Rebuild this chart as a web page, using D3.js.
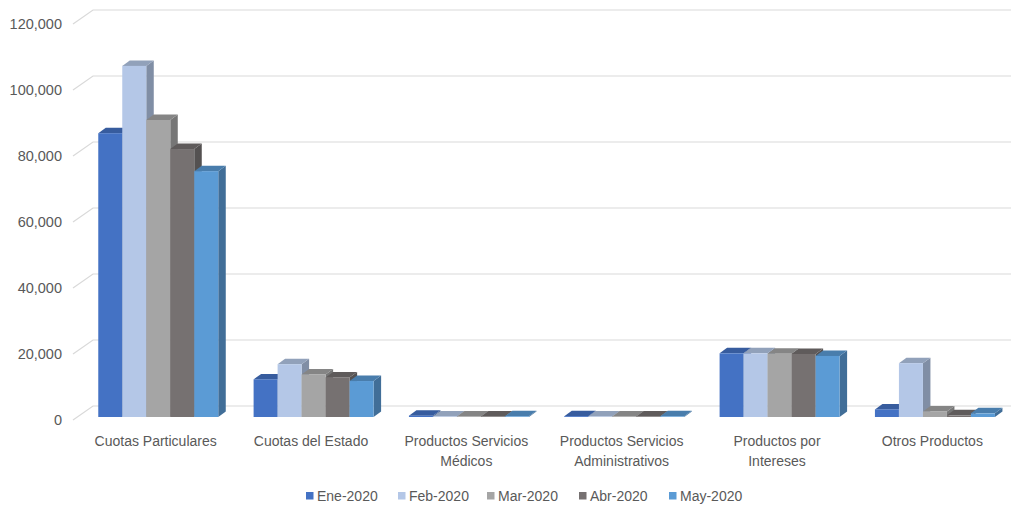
<!DOCTYPE html>
<html><head><meta charset="utf-8">
<script src="https://cdn.jsdelivr.net/npm/d3@7"></script>
<style>
html,body{margin:0;padding:0;background:#fff;}
svg{display:block;font-family:"Liberation Sans",Arial,sans-serif;}
</style></head>
<body><svg id="chart" width="1012" height="507"></svg>
<script>
const categories = [["Cuotas Particulares"],["Cuotas del Estado"],["Productos Servicios","Médicos"],["Productos Servicios","Administrativos"],["Productos por","Intereses"],["Otros Productos"]];
const seriesNames = ["Ene-2020","Feb-2020","Mar-2020","Abr-2020","May-2020"];
const seriesColors = ["#4472C4","#B4C7E7","#A5A5A5","#767171","#5B9BD5"];
const ene2020 = [86000, 11400, 400, 250, 19300, 2300];
const feb2020 = [106400, 16000, 150, 150, 19300, 16300];
const mar2020 = [90000, 12900, 150, 150, 19200, 1700];
const abr2020 = [81200, 12000, 150, 150, 19100, 500];
const may2020 = [74500, 10900, 200, 200, 18500, 1100];
const yTicks = [0, 20000, 40000, 60000, 80000, 100000, 120000];

const series = [ene2020, feb2020, mar2020, abr2020, may2020];
const svg = d3.select("#chart");
const catKeys = categories.map(c => c.join(" "));

const x = d3.scaleBand().domain(catKeys).range([78, 1010]);
const yFront = d3.scaleLinear().domain([0, 120000]).range([420, 24]);
const yBar = d3.scaleLinear().domain([0, 120000]).range([417, 21]);
const depthX = 20, depthY = -14;   // wall depth offset
const bdx = 7.5, bdy = -5.5;       // bar depth offset
const barW = 24;

// gridlines (floor diagonal + back wall)
svg.append("g").selectAll("path").data(yTicks).join("path")
  .attr("d", v => `M73,${yFront(v)}L${73+depthX},${yFront(v)+depthY}L1011,${yFront(v)+depthY}`)
  .attr("fill", "none").attr("stroke", "#D9D9D9").attr("stroke-width", 1.2);

// y tick labels
svg.append("g").selectAll("text").data(yTicks).join("text")
  .attr("x", 62).attr("y", v => yFront(v) + 5)
  .attr("text-anchor", "end").attr("font-size", 14.5).attr("fill", "#595959")
  .text(d3.format(","));

// bars
const barsG = svg.append("g");
catKeys.forEach((c, ci) => {
  const center = x(c) + x.bandwidth() / 2 + 2.6;
  series.forEach((s, si) => {
    const v = s[ci];
    const x0 = center - barW * series.length / 2 + si * barW;
    const x1 = x0 + barW;
    const yb = yBar(0), yt = yBar(v);
    const col = d3.color(seriesColors[si]);
    const g = barsG.append("g");
    // side
    g.append("path").attr("d", `M${x1},${yb}L${x1+bdx},${yb+bdy}L${x1+bdx},${yt+bdy}L${x1},${yt}Z`)
      .attr("fill", col.darker(0.95));
    // top
    g.append("path").attr("d", `M${x0},${yt}L${x0+bdx},${yt+bdy}L${x1+bdx},${yt+bdy}L${x1},${yt}Z`)
      .attr("fill", col.darker(0.6));
    // front
    g.append("rect").attr("x", x0).attr("y", yt).attr("width", barW).attr("height", Math.max(0, yb - yt))
      .attr("fill", col);
  });
});

// category labels
const lab = svg.append("g").selectAll("text").data(categories).join("text")
  .attr("x", (d, i) => x(catKeys[i]) + x.bandwidth() / 2)
  .attr("y", 446).attr("text-anchor", "middle").attr("font-size", 14).attr("fill", "#595959");
lab.selectAll("tspan").data(d => d).join("tspan")
  .attr("x", function() { return d3.select(this.parentNode).attr("x"); })
  .attr("dy", (d, i) => i === 0 ? 0 : 20)
  .text(d => d);

// legend
const legX = [306, 398, 487, 579, 669];
const leg = svg.append("g").selectAll("g").data(seriesNames).join("g")
  .attr("transform", (d, i) => `translate(${legX[i]},496)`);
leg.append("rect").attr("x", 0).attr("y", -4).attr("width", 7.5).attr("height", 7.5)
  .attr("fill", (d, i) => seriesColors[i]);
leg.append("text").attr("x", 11).attr("y", 5).attr("font-size", 14).attr("fill", "#595959").text(d => d);
</script>
</body></html>
